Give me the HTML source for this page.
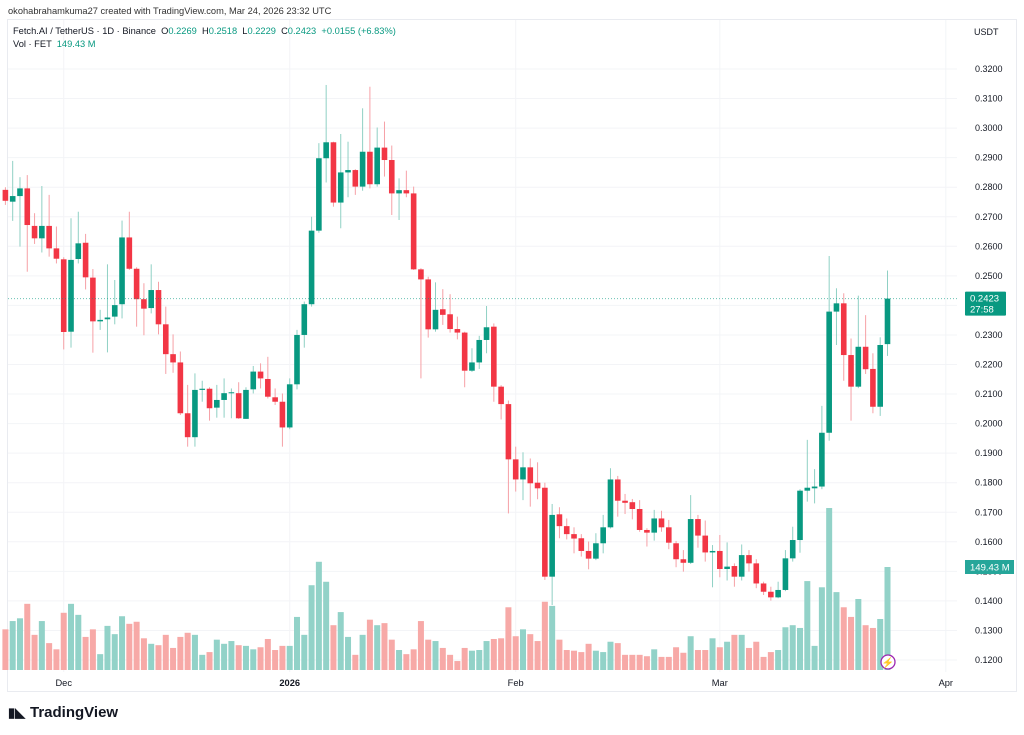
<!DOCTYPE html>
<html><head><meta charset="utf-8"><style>
body{margin:0;background:#fff;font-family:"Liberation Sans",sans-serif;}
#wrap{position:relative;width:1024px;height:735px;overflow:hidden;}
.t{position:absolute;white-space:nowrap;}
</style></head><body>
<div id="wrap">
<div class="t" style="left:8px;top:6px;font-size:9.3px;color:#333;">okohabrahamkuma27 created with TradingView.com, Mar 24, 2026 23:32 UTC</div>
<svg id="svg" width="1024" height="735" style="position:absolute;left:0;top:0"></svg>
<div class="t" style="left:13px;top:26px;font-size:9.3px;color:#131722;">Fetch.AI / TetherUS · 1D · Binance &nbsp;O<span style="color:#089981">0.2269</span> &nbsp;H<span style="color:#089981">0.2518</span> &nbsp;L<span style="color:#089981">0.2229</span> &nbsp;C<span style="color:#089981">0.2423</span> &nbsp;<span style="color:#089981">+0.0155 (+6.83%)</span></div>
<div class="t" style="left:13px;top:39px;font-size:9.3px;color:#131722;">Vol · FET &nbsp;<span style="color:#089981">149.43 M</span></div>
<div class="t" style="left:974px;top:27px;font-size:9px;color:#131722;">USDT</div>
<div class="t" style="left:8px;top:704px;font-size:15px;font-weight:bold;color:#131722;"><span style="display:inline-block;width:22px;font-size:13px;">▮◣</span>TradingView</div>
</div>
<script>
const opens=[0.2791,0.2751,0.2770,0.2796,0.2669,0.2627,0.2669,0.2593,0.2556,0.2311,0.2557,0.2612,0.2494,0.2346,0.2353,0.2362,0.2404,0.2630,0.2524,0.2421,0.2391,0.2452,0.2336,0.2235,0.2207,0.2035,0.1954,0.2114,0.2118,0.2054,0.2080,0.2103,0.2103,0.2016,0.2116,0.2176,0.2151,0.2089,0.2074,0.1987,0.2133,0.2300,0.2404,0.2653,0.2898,0.2952,0.2748,0.2850,0.2858,0.2802,0.2920,0.2810,0.2934,0.2892,0.2779,0.2790,0.2779,0.2522,0.2488,0.2319,0.2387,0.2370,0.2320,0.2308,0.2179,0.2207,0.2283,0.2328,0.2125,0.2066,0.1879,0.1811,0.1852,0.1800,0.1783,0.1482,0.1693,0.1653,0.1626,0.1612,0.1569,0.1543,0.1595,0.1649,0.1811,0.1739,0.1734,0.1711,0.1640,0.1631,0.1679,0.1649,0.1595,0.1541,0.1529,0.1677,0.1621,0.1564,0.1569,0.1508,0.1518,0.1482,0.1555,0.1527,0.1459,0.1431,0.1412,0.1437,0.1544,0.1606,0.1773,0.1781,0.1787,0.1969,0.2379,0.2407,0.2232,0.2125,0.2260,0.2185,0.2057,0.2269];
const closes=[0.2754,0.2770,0.2796,0.2672,0.2627,0.2669,0.2593,0.2558,0.2310,0.2554,0.2610,0.2495,0.2346,0.2351,0.2359,0.2401,0.2630,0.2524,0.2421,0.2389,0.2452,0.2336,0.2235,0.2207,0.2035,0.1954,0.2114,0.2118,0.2052,0.2080,0.2103,0.2106,0.2018,0.2114,0.2176,0.2153,0.2091,0.2074,0.1987,0.2133,0.2300,0.2404,0.2653,0.2898,0.2952,0.2748,0.2850,0.2858,0.2802,0.2920,0.2810,0.2934,0.2892,0.2779,0.2790,0.2779,0.2522,0.2488,0.2319,0.2385,0.2368,0.2320,0.2308,0.2179,0.2207,0.2283,0.2326,0.2125,0.2066,0.1879,0.1811,0.1852,0.1798,0.1781,0.1482,0.1691,0.1653,0.1626,0.1611,0.1569,0.1543,0.1595,0.1649,0.1811,0.1739,0.1732,0.1711,0.1640,0.1631,0.1679,0.1649,0.1597,0.1541,0.1529,0.1677,0.1621,0.1564,0.1569,0.1508,0.1516,0.1482,0.1555,0.1527,0.1459,0.1431,0.1412,0.1437,0.1544,0.1606,0.1773,0.1783,0.1787,0.1969,0.2379,0.2407,0.2232,0.2125,0.2260,0.2184,0.2057,0.2266,0.2423];
const highs=[0.2800,0.2889,0.2834,0.2841,0.2712,0.2804,0.2774,0.2667,0.2563,0.2695,0.2717,0.2642,0.2523,0.2385,0.2539,0.2486,0.2687,0.2717,0.2529,0.2475,0.2539,0.2480,0.2396,0.2302,0.2244,0.2131,0.2170,0.2145,0.2123,0.2131,0.2153,0.2119,0.2140,0.2123,0.2195,0.2204,0.2226,0.2119,0.2102,0.2153,0.2317,0.2413,0.2700,0.2949,0.3146,0.2954,0.2980,0.2954,0.2861,0.3067,0.3140,0.3002,0.3022,0.2941,0.2830,0.2856,0.2802,0.2526,0.2497,0.2478,0.2455,0.2438,0.2362,0.2311,0.2255,0.2297,0.2398,0.2339,0.2130,0.2078,0.1922,0.1903,0.1882,0.1869,0.1800,0.1728,0.1717,0.1679,0.1649,0.1626,0.1601,0.1629,0.1691,0.1849,0.1823,0.1762,0.1745,0.1741,0.1646,0.1708,0.1705,0.1674,0.1603,0.1572,0.1758,0.1691,0.1672,0.1589,0.1623,0.1598,0.1527,0.1591,0.1572,0.1541,0.1465,0.1448,0.1465,0.1572,0.1651,0.1778,0.1945,0.1846,0.2060,0.2567,0.2458,0.2441,0.2288,0.2433,0.2367,0.2238,0.2292,0.2518];
const lows=[0.2740,0.2686,0.2599,0.2514,0.2608,0.2579,0.2565,0.2542,0.2251,0.2257,0.2542,0.2454,0.2240,0.2317,0.2241,0.2336,0.2356,0.2520,0.2328,0.2299,0.2373,0.2302,0.2168,0.2172,0.2029,0.1922,0.1922,0.2074,0.2010,0.2020,0.2020,0.2018,0.2016,0.2016,0.2102,0.2119,0.2085,0.2063,0.1922,0.1981,0.2116,0.2257,0.2396,0.2646,0.2816,0.2734,0.2661,0.2766,0.2774,0.2788,0.2796,0.2802,0.2836,0.2706,0.2689,0.2766,0.2520,0.2153,0.2291,0.2311,0.2334,0.2308,0.2285,0.2123,0.2175,0.2185,0.2238,0.2074,0.2014,0.1696,0.1770,0.1741,0.1719,0.1744,0.1471,0.1386,0.1612,0.1608,0.1561,0.1550,0.1507,0.1538,0.1561,0.1645,0.1685,0.1694,0.1676,0.1634,0.1584,0.1604,0.1634,0.1575,0.1514,0.1499,0.1525,0.1580,0.1533,0.1446,0.1480,0.1469,0.1448,0.1469,0.1499,0.1443,0.1420,0.1401,0.1409,0.1433,0.1533,0.1563,0.1736,0.1730,0.1778,0.1942,0.2266,0.2145,0.2010,0.2120,0.2168,0.2035,0.2026,0.2229];
const volumes=[59,71,75,96,51,71,39,30,83,96,80,48,59,23,64,52,78,67,70,46,38,36,51,32,48,54,51,22,26,44,38,42,36,35,30,33,45,29,35,35,77,51,123,157,128,65,84,48,22,51,73,65,68,44,29,23,30,71,44,42,32,22,13,32,28,29,42,45,46,91,49,59,52,42,99,93,44,29,28,26,38,28,26,41,39,22,22,22,20,30,19,19,33,25,49,29,29,46,33,41,51,51,32,41,19,26,29,62,65,61,129,35,120,235,113,91,77,103,65,61,74,149.43];
const priceTicks=[0.12,0.13,0.14,0.15,0.16,0.17,0.18,0.19,0.20,0.21,0.22,0.23,0.24,0.25,0.26,0.27,0.28,0.29,0.30,0.31,0.32];
const timeLabels=["Dec","2026","Feb","Mar","Apr"];
const timeLabelIdx=[8,39,70,98,129];
const boldLabels=["2026"];

const NS="http://www.w3.org/2000/svg";
const svg=document.getElementById('svg');
function el(tag,attrs,parent){const e=document.createElementNS(NS,tag);for(const k in attrs)e.setAttribute(k,attrs[k]);(parent||svg).appendChild(e);return e;}
const X=i=>5.4+7.29*i;
const Y=p=>69+(0.32-p)*2955;
const VY=v=>670-v*(103/149.43);
const frame=el('rect',{x:7.5,y:19.5,width:1009,height:672,fill:'none',stroke:'#e9ebf0'});


priceTicks.forEach(p=>{
  const g=el('line',{x1:8,x2:957,y1:Y(p),y2:Y(p),stroke:'#f3f4f7','stroke-width':1});
  
  
  const t=el('text',{x:975,y:Y(p)+3,'font-size':9,fill:'#131722','font-family':'Liberation Sans, sans-serif'});
  t.textContent=p.toFixed(4);
  
  
});
timeLabels.forEach((lab,k)=>{
  const x=X(timeLabelIdx[k]);
  const g=el('line',{x1:x,x2:x,y1:20,y2:672,stroke:'#f3f4f7','stroke-width':1});
  
  
  const t=el('text',{x:x,y:686,'font-size':9.3,fill:'#131722','text-anchor':'middle','font-weight':boldLabels.includes(lab)?'bold':'normal','font-family':'Liberation Sans, sans-serif'});
  t.textContent=lab;
  
  
});
volumes.forEach((v,i)=>{
  const up=closes[i]>=opens[i];
  const r=el('rect',{x:X(i)-3,y:VY(v),width:6,height:670-VY(v),fill:up?'#92d2c8':'#f7a9a7'});
  
  
});
opens.forEach((o,i)=>{
  const c=closes[i],up=c>=o,col=up?'#089981':'#f23645',wcol=up?'#8fd0c4':'#f6a0a6';
  const w=el('line',{x1:X(i),x2:X(i),y1:Y(highs[i]),y2:Y(lows[i]),stroke:wcol,'stroke-width':1});
  
  
  const top=Y(Math.max(o,c)),h=Math.max(1,Math.abs(Y(o)-Y(c)));
  const b=el('rect',{x:X(i)-2.8,y:top,width:5.6,height:h,fill:col});
  
  
});
const last=closes[closes.length-1];
const pl=el('line',{x1:8,x2:957,y1:Y(last),y2:Y(last),stroke:'#089981','stroke-width':1,'stroke-dasharray':'1,2',opacity:0.6});


const pb=el('rect',{x:965,y:Y(last)-7,width:41,height:24,fill:'#089981',rx:1});


const pt=el('text',{x:970,y:Y(last)+3,'font-size':9.5,fill:'#fff','font-family':'Liberation Sans, sans-serif'});
pt.textContent=last.toFixed(4);


const ct=el('text',{x:970,y:Y(last)+14,'font-size':9.5,fill:'#fff','font-family':'Liberation Sans, sans-serif'});
ct.textContent='27:58';


const lv=volumes[volumes.length-1];
const vb=el('rect',{x:965,y:VY(lv)-7,width:49,height:14,fill:'#26a69a'});


const vt=el('text',{x:970,y:VY(lv)+3.5,'font-size':9.5,fill:'#fff','font-family':'Liberation Sans, sans-serif'});
vt.textContent='149.43 M';


const ic=el('circle',{cx:888,cy:662,r:7,fill:'#fff',stroke:'#9c27b0','stroke-width':1.3});


const it=el('text',{x:888,y:666,'font-size':10,fill:'#9c27b0','text-anchor':'middle'});
it.textContent='⚡';


</script>
</body></html>
